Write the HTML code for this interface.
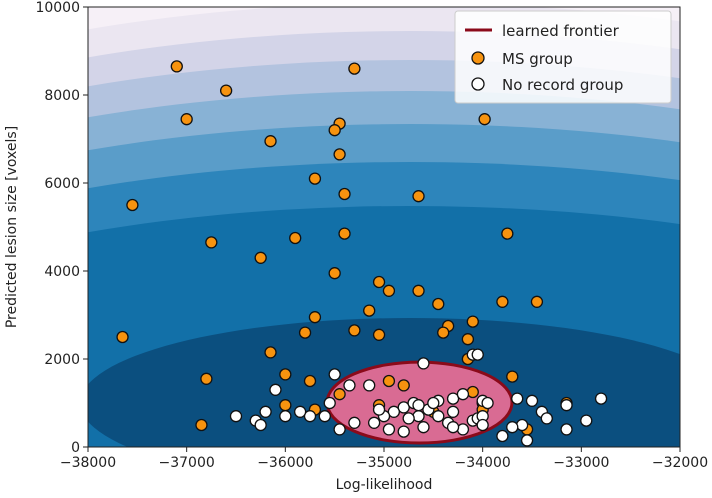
<!DOCTYPE html>
<html><head><meta charset="utf-8">
<style>
html,body{margin:0;padding:0;background:#fff;overflow:hidden;width:712px;height:498px;}
svg{display:block;}
svg text{font-family:"DejaVu Sans","Liberation Sans",sans-serif;}
</style></head>
<body>
<svg id="chart" width="712" height="498" viewBox="0 0 712 498" xmlns="http://www.w3.org/2000/svg">
<defs><clipPath id="clip"><rect x="88" y="7" width="592" height="440"/></clipPath></defs>
<g id="bg" clip-path="url(#clip)"></g>
<g id="marks" clip-path="url(#clip)"></g>
<rect x="88" y="7" width="592" height="440" fill="none" stroke="#222" stroke-width="1"/>
<g id="axes"></g>
<text x="384" y="489" text-anchor="middle" font-size="14" fill="#222">Log-likelihood</text>
<text transform="translate(16,227) rotate(-90)" text-anchor="middle" font-size="14" fill="#222">Predicted lesion size [voxels]</text>
<g>
<rect x="455" y="11" width="216" height="92" rx="3" fill="#fff" fill-opacity="0.85" stroke="#ccc"/>
<line x1="465" y1="30" x2="492" y2="30" stroke="#8b0a1a" stroke-width="3"/>
<text x="502" y="36" font-size="15" fill="#222">learned frontier</text>
<circle cx="478" cy="58" r="6" fill="#f7930f" stroke="#111" stroke-width="1.3"/>
<text x="502" y="64" font-size="15" fill="#222">MS group</text>
<circle cx="478" cy="84" r="6" fill="#fff" stroke="#111" stroke-width="1.3"/>
<text x="502" y="90" font-size="15" fill="#222">No record group</text>
</g>
</svg>
<script>
const xTicks=[-38000,-37000,-36000,-35000,-34000,-33000,-32000];
const yTicks=[0,2000,4000,6000,8000,10000];
const msX=[-37100,-36600,-35300,-37000,-36150,-35450,-35500,-35450,-35700,-35400,-34650,-33980,-37550,-36750,-35400,-35900,-36250,-33750,-35500,-35050,-34950,-34650,-34450,-33800,-33450,-35150,-35700,-34350,-34100,-35800,-35300,-35050,-34400,-34150,-37650,-36150,-34150,-36000,-35750,-36800,-35450,-34950,-34800,-34100,-33700,-33150,-36000,-35700,-34000,-36850,-35050,-34500,-34000,-33550];
const msY=[8650,8100,8600,7450,6950,7350,7200,6650,6100,5750,5700,7450,5500,4650,4850,4750,4300,4850,3950,3750,3550,3550,3250,3300,3300,3100,2950,2750,2850,2600,2650,2550,2600,2450,2500,2150,2000,1650,1500,1550,1200,1500,1400,1250,1600,1000,950,850,1000,500,950,800,850,400];
const nrX=[-34600,-34100,-34050,-35500,-35350,-35150,-34450,-34300,-34200,-34000,-33950,-33650,-33500,-33150,-32800,-33400,-33600,-33350,-32950,-33150,-33800,-33700,-33550,-34200,-34350,-34650,-34600,-34800,-34900,-35000,-35050,-34950,-35300,-35600,-35550,-35750,-35850,-35450,-36000,-36200,-36300,-36500,-36100,-36250,-34800,-34700,-34550,-34450,-34300,-34100,-34050,-34000,-34000,-34300,-34750,-35100,-34650,-34500];
const nrY=[1900,2100,2100,1650,1400,1400,1050,1100,1200,1050,1000,1100,1050,950,1100,800,500,650,600,400,250,450,150,400,550,700,450,350,800,700,850,400,550,700,1000,700,800,400,700,800,600,700,1300,500,900,1000,850,700,800,600,650,700,500,450,650,550,950,1000];
const frontier={cx:-34640,cy:1010,rx:937,ry:920};
const NS='http://www.w3.org/2000/svg';
const X0=88,X1=680,Y0=447,Y1=7;
function sx(v){return X0+(v-(-38000))/6000*(X1-X0);}
function sy(v){return Y0-(v/10000)*(Y0-Y1);}
function mk(t,a,p){const e=document.createElementNS(NS,t);for(const k in a)e.setAttribute(k,a[k]);p.appendChild(e);return e;}
const bg=document.getElementById('bg');
mk('rect',{x:88,y:7,width:592,height:440,fill:'#f6f0f7'},bg);
const cols=['#ebe6f1','#d3d4e8','#b3c3df','#88b2d5','#5a9dc9','#2d85bb','#1270a8','#0b4f7f'];
const bs=[400,372,343,312,279,241,197,85];
const cxp=410,cyp=403;
for(let i=0;i<bs.length;i++){
  const b=bs[i];
  let a;
  if(i==bs.length-1){a=330;}else{const r=(b-27)/b;a=326/Math.sqrt(1-r*r);}
  const el=mk('ellipse',{cx:cxp,cy:cyp,rx:a,ry:b,fill:cols[i]},bg);
  
  
}
const marks=document.getElementById('marks');
const fe=mk('ellipse',{cx:sx(frontier.cx),cy:sy(frontier.cy),rx:sx(frontier.cx+frontier.rx)-sx(frontier.cx),ry:sy(frontier.cy-frontier.ry)-sy(frontier.cy),fill:'#d96b93',stroke:'#8b0a1a','stroke-width':3},marks);


for(let i=0;i<msX.length;i++){
  const c=mk('circle',{cx:sx(msX[i]),cy:sy(msY[i]),r:5.5,fill:'#f7930f',stroke:'#111','stroke-width':1.3},marks);
  
  
}
for(let i=0;i<nrX.length;i++){
  const c=mk('circle',{cx:sx(nrX[i]),cy:sy(nrY[i]),r:5.5,fill:'#fff',stroke:'#111','stroke-width':1.3},marks);
  
  
}
const ax=document.getElementById('axes');
xTicks.forEach(v=>{
  mk('line',{x1:sx(v),x2:sx(v),y1:Y0,y2:Y0+5,stroke:'#222'},ax);
  const t=mk('text',{x:sx(v),y:Y0+20,'text-anchor':'middle','font-size':14,fill:'#222'},ax);
  t.textContent=String(v).replace('-','\u2212');
  
  
});
yTicks.forEach(v=>{
  mk('line',{x1:X0-5,x2:X0,y1:sy(v),y2:sy(v),stroke:'#222'},ax);
  const t=mk('text',{x:X0-8,y:sy(v)+5,'text-anchor':'end','font-size':14,fill:'#222'},ax);
  t.textContent=v;
  
  
});
</script>
</body></html>
